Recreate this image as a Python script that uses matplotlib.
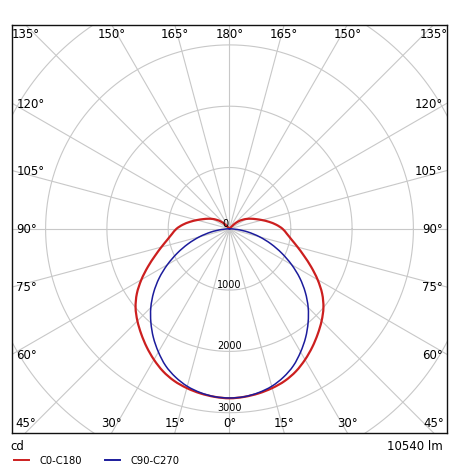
import numpy as np
import matplotlib
matplotlib.use("Agg")
import matplotlib.pyplot as plt
from matplotlib.lines import Line2D
from matplotlib.path import Path
from matplotlib.patches import PathPatch

# ---- data ----
# gamma angle (deg, 0 = straight down) and luminous intensity (cd)
c0_angles = [0, 5, 10, 15, 20, 25, 30, 35, 40, 45, 50, 55, 60, 65, 70, 75, 80, 85, 90,
             95, 100, 105, 110, 115, 120, 125, 130, 135, 140]
c0_values = [2765, 2752, 2727, 2690, 2640, 2565, 2465, 2355, 2240, 2125, 2000, 1845, 1660,
             1470, 1295, 1150, 1030, 940, 865, 765, 655, 550, 460, 388, 322, 255, 185, 100, 0]

c90_angles = [0, 5, 10, 15, 20, 25, 30, 35, 40, 45, 50, 55, 60, 65, 70, 75, 80, 85, 90]
c90_values = [2760, 2750, 2715, 2660, 2575, 2465, 2320, 2165, 1995, 1815, 1615, 1400, 1170,
              940, 720, 510, 310, 130, 0]

ring_values = [1000, 2000, 3000, 4000, 5000]
ring_labels = ["1000", "2000", "3000"]
angle_ticks = [0, 15, 30, 45, 60, 75, 90, 105, 120, 135, 150, 165, 180]
series_names = ["C0-C180", "C90-C270"]
series_colors = ["#cc1f1f", "#1c1c9c"]
unit_left = "cd"
unit_right = "10540 lm"

# ---- figure geometry ----
W, H = 460, 477
fig = plt.figure(figsize=(W / 100, H / 100), dpi=100)
bx0, bx1, by0, by1 = 12.3, 446.7, 25.7, 434.0   # box pixels (top-left origin)
cx, cy = 229.5, 229.8
scale = 0.0613  # px per cd
ax = fig.add_axes([bx0 / W, 1 - by1 / H, (bx1 - bx0) / W, (by1 - by0) / H])
xmin, xmax = -(cx - bx0) / scale, (bx1 - cx) / scale
ymin, ymax = -(by1 - cy) / scale, (cy - by0) / scale
ax.set_xlim(xmin, xmax)
ax.set_ylim(ymin, ymax)
ax.set_xticks([])
ax.set_yticks([])
for s in ax.spines.values():
    s.set_linewidth(1.0)
    s.set_color("#111111")

grid_c = "#c8c8c8"
# rings
t = np.linspace(0, 2 * np.pi, 721)
for r in ring_values:
    ax.plot(r * np.cos(t), r * np.sin(t), color=grid_c, lw=0.8, zorder=1)
# spokes
R = 8000
for a in range(0, 360, 15):
    th = np.radians(a)
    ax.plot([0, R * np.sin(th)], [0, -R * np.cos(th)], color=grid_c, lw=0.8, zorder=1)


def polar_xy(angles, values, side):
    th = np.radians(np.asarray(angles, dtype=float))
    v = np.asarray(values, dtype=float)
    return side * v * np.sin(th), -v * np.cos(th)


def smooth_path(xs, ys):
    """Catmull-Rom curve through the points, expressed as cubic Bezier segments."""
    P = np.column_stack([xs, ys])
    n = len(P)
    verts = [P[0]]
    codes = [Path.MOVETO]
    for i in range(n - 1):
        p0 = P[i - 1] if i > 0 else P[i]
        p1, p2 = P[i], P[i + 1]
        p3 = P[i + 2] if i + 2 < n else P[i + 1]
        c1 = p1 + (p2 - p0) / 6.0
        c2 = p2 - (p3 - p1) / 6.0
        verts += [c1, c2, p2]
        codes += [Path.CURVE4] * 3
    return Path(np.array(verts), codes)


for ang, val, col, lw in [(c0_angles, c0_values, series_colors[0], 1.6),
                          (c90_angles, c90_values, series_colors[1], 1.1)]:
    xr, yr = polar_xy(ang, val, 1)
    xl, yl = polar_xy(ang, val, -1)
    xs = np.concatenate([xl[::-1], xr[1:]])
    ys = np.concatenate([yl[::-1], yr[1:]])
    ax.add_patch(PathPatch(smooth_path(xs, ys), facecolor="none", edgecolor=col,
                           lw=lw, zorder=3, joinstyle="round", capstyle="round"))

# ring labels
for rv, lab in zip(ring_values, ring_labels):
    ax.text(0, -rv + 15, lab, ha="center", va="bottom", fontsize=7, zorder=4)
ax.text(-10, 10, "0", ha="right", va="bottom", fontsize=7, zorder=4)

# angle labels on the box edges
fs = 8.5
for a in angle_ticks:
    sides = [1] if a in (0, 180) else [-1, 1]
    for side in sides:
        th = np.radians(a)
        dx, dy = side * np.sin(th), -np.cos(th)
        ts = []
        if abs(dx) > 1e-9:
            ts.append(((xmax if dx > 0 else xmin) / dx, "lr"))
        if abs(dy) > 1e-9:
            ts.append(((ymax if dy > 0 else ymin) / dy, "tb"))
        tt, kind = min(ts, key=lambda z: z[0])
        px, py = tt * dx, tt * dy
        lab = f"{a}°"
        if kind == "tb":
            if dy < 0:
                ax.annotate(lab, (px, py), xytext=(0, 3.0), textcoords="offset points",
                            ha="center", va="bottom", fontsize=fs, annotation_clip=False)
            else:
                ax.annotate(lab, (px, py), xytext=(0, -2.0), textcoords="offset points",
                            ha="center", va="top", fontsize=fs, annotation_clip=False)
        else:
            if dx < 0:
                ax.annotate(lab, (px, py), xytext=(3.0, 0), textcoords="offset points",
                            ha="left", va="center", fontsize=fs, annotation_clip=False)
            else:
                ax.annotate(lab, (px, py), xytext=(-2.5, 0), textcoords="offset points",
                            ha="right", va="center", fontsize=fs, annotation_clip=False)

# texts below the box
fig.text(10 / W, 1 - 447 / H, unit_left, ha="left", va="center", fontsize=fs)
fig.text(443 / W, 1 - 447 / H, unit_right, ha="right", va="center", fontsize=fs)

handles = [Line2D([], [], color=c, lw=1.4) for c in series_colors]
fig.legend(handles, series_names, loc="center left",
           bbox_to_anchor=(14 / W, 1 - 461 / H), ncol=2, frameon=False,
           fontsize=7.2, handlelength=1.5, handletextpad=1.1, columnspacing=2.2,
           borderpad=0, borderaxespad=0)

fig.savefig("out.png", dpi=100)
